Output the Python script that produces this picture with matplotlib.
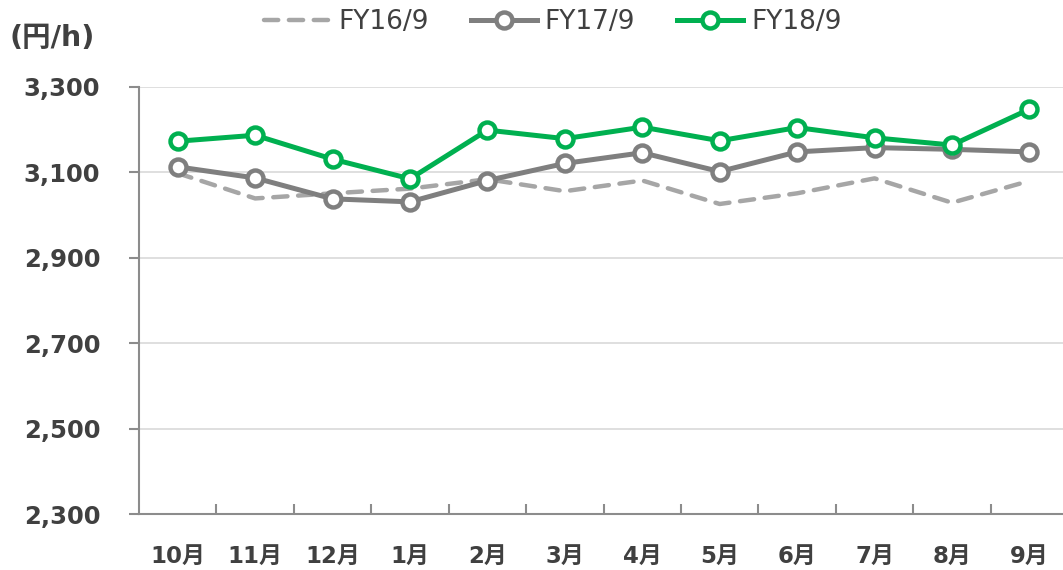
import numpy as np
import matplotlib.pyplot as plt
from matplotlib.ticker import FixedLocator, FuncFormatter

plt.rcParams['font.family'] = ['DejaVu Sans', 'Noto Sans CJK JP']

# データ
months = ['10月', '11月', '12月', '1月', '2月', '3月', '4月', '5月', '6月', '7月', '8月', '9月']
fy16 = [3098, 3039, 3051, 3062, 3084, 3056, 3081, 3026, 3051, 3086, 3029, 3080]
fy17 = [3113, 3087, 3038, 3031, 3081, 3121, 3146, 3102, 3148, 3158, 3154, 3148]
fy18 = [3173, 3187, 3131, 3085, 3199, 3179, 3206, 3174, 3205, 3181, 3164, 3248]
y_ticks = [2300, 2500, 2700, 2900, 3100, 3300]

text_col = '#404040'
x = np.arange(len(months))

fig = plt.figure(figsize=(10.63, 5.70), dpi=100)
ax = fig.add_axes([0.1308, 0.0982, 0.874, 0.7492])

ax.plot(x, fy16, color='#A6A6A6', lw=3.2, linestyle=(0, (3.2, 2.4)),
        dash_capstyle='round', label='FY16/9', zorder=2)
ax.plot(x, fy17, color='#7F7F7F', lw=3.6, marker='o', ms=11.5, mfc='white',
        mec='#7F7F7F', mew=3.2, label='FY17/9', zorder=3)
ax.plot(x, fy18, color='#00B050', lw=3.6, marker='o', ms=11.5, mfc='white',
        mec='#00B050', mew=3.2, label='FY18/9', zorder=4)

ax.set_xlim(-0.5, len(months) - 0.5)
ax.set_ylim(2300, 3300)
ax.set_yticks(y_ticks)
ax.yaxis.set_major_formatter(FuncFormatter(lambda v, p: f'{int(v):,}'))
ax.set_xticks(x)
ax.set_xticklabels(months)
ax.xaxis.set_minor_locator(FixedLocator(np.arange(0.5, len(months) - 0.5, 1)))

ax.grid(axis='y', color='#D9D9D9', lw=1.2)
ax.set_axisbelow(True)
for s in ['top', 'right']:
    ax.spines[s].set_visible(False)
for s in ['left', 'bottom']:
    ax.spines[s].set_color('#8C8C8C')
    ax.spines[s].set_linewidth(1.5)

ax.tick_params(axis='y', length=7, width=1.5, color='#8C8C8C', pad=21,
               labelsize=17.5, labelcolor=text_col)
ax.tick_params(axis='x', which='major', length=0, pad=22,
               labelsize=16.5, labelcolor=text_col)
ax.tick_params(axis='x', which='minor', direction='in', length=7, width=1.5,
               color='#8C8C8C')
for lab in ax.get_xticklabels() + ax.get_yticklabels():
    lab.set_fontweight('bold')

fig.text(0.009, 0.933, '(円/h)', fontsize=20.5, fontweight='bold', color=text_col,
         va='center', ha='left')

leg = ax.legend(loc='center', bbox_to_anchor=(0.4456, 1.152), ncol=3, frameon=False,
                fontsize=19, handlelength=2.5, handletextpad=0.3, columnspacing=1.6,
                borderaxespad=0)
for t in leg.get_texts():
    t.set_color(text_col)

fig.savefig('out.png', dpi=100)
